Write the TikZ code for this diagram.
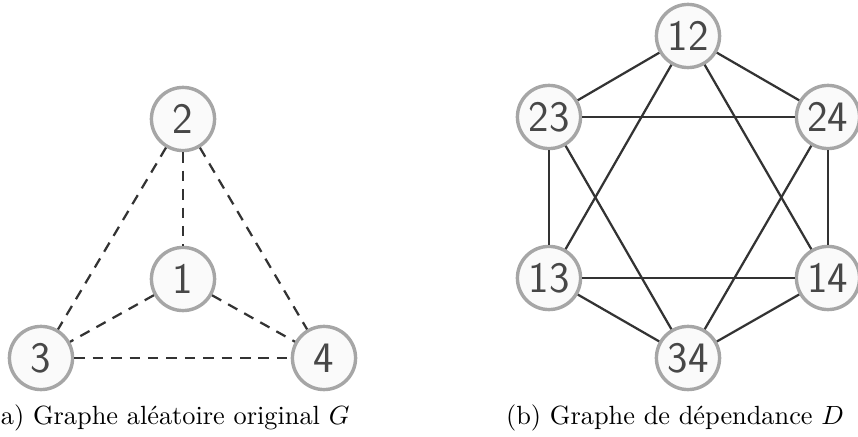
\documentclass[tikz,border=0pt]{standalone}
\usepackage{fontspec}
\begin{document}
\begin{tikzpicture}[x=0.38pt,y=-0.38pt,
  vtx/.style={circle,draw=black!35,fill=black!2,line width=1.3pt,minimum size=24pt,inner sep=0pt,
    text=black!72,font=\sffamily\fontsize{16.5}{19}\selectfont},
  dedge/.style={draw=black!80,line width=0.85pt,dash pattern=on 4pt off 3pt},
  sedge/.style={draw=black!80,line width=0.85pt},
  captext/.style={font=\fontsize{10}{12}\selectfont,inner sep=0pt}]
\useasboundingbox (0,0) rectangle (858,437);
% left graph
\node[vtx] (n2) at (183,119) {2};
\node[vtx] (n1) at (183,279) {1};
\node[vtx] (n3) at (41,358) {3};
\node[vtx] (n4) at (324,358) {4};
\draw[dedge] (n2) -- (n1);
\draw[dedge] (n2) -- (n3);
\draw[dedge] (n2) -- (n4);
\draw[dedge] (n1) -- (n3);
\draw[dedge] (n1) -- (n4);
\draw[dedge] (n3) -- (n4);
% right graph
\node[vtx] (d12) at (688,36) {12};
\node[vtx] (d23) at (549,117) {23};
\node[vtx] (d24) at (828,117) {24};
\node[vtx] (d13) at (549,278) {13};
\node[vtx] (d14) at (828,278) {14};
\node[vtx] (d34) at (688,358) {34};
\draw[sedge] (d12) -- (d23);
\draw[sedge] (d12) -- (d24);
\draw[sedge] (d12) -- (d13);
\draw[sedge] (d12) -- (d14);
\draw[sedge] (d23) -- (d24);
\draw[sedge] (d23) -- (d13);
\draw[sedge] (d23) -- (d34);
\draw[sedge] (d24) -- (d14);
\draw[sedge] (d24) -- (d34);
\draw[sedge] (d13) -- (d14);
\draw[sedge] (d13) -- (d34);
\draw[sedge] (d14) -- (d34);
% captions
\node[captext,anchor=east] (capa) at (350,418) {(a) Graphe aléatoire original $G$};
\node[captext] (capb) at (675,418) {(b) Graphe de dépendance $D$};
\end{tikzpicture}
\end{document}
